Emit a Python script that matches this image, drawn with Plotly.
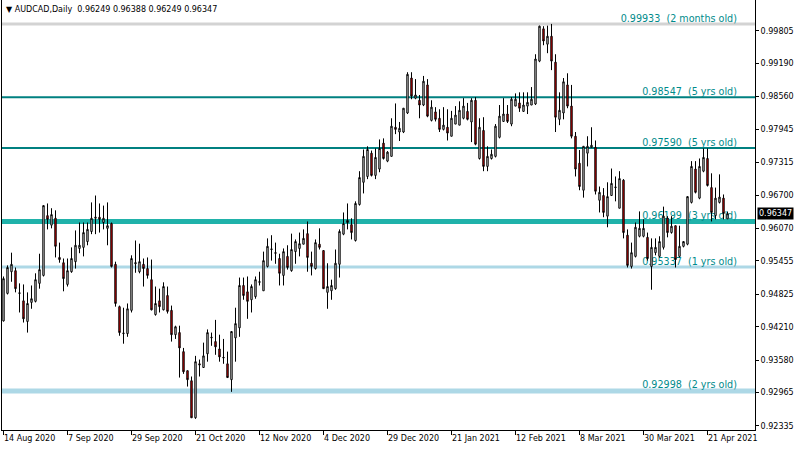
import plotly.graph_objects as go
import pandas as pd

# ---------------- data ----------------
symbol_header = "\u25bc AUDCAD,Daily  0.96249 0.96388 0.96249 0.96347"

dates = [d for d in pd.bdate_range("2020-08-14", "2021-04-28")
         if d.strftime("%m-%d") not in ("12-25", "01-01")]

opens = [
    0.9432, 0.9484, 0.9525, 0.9527, 0.9484, 0.9470, 0.9431, 0.9467, 0.9469, 0.9503,
    0.9518, 0.9631, 0.9613, 0.9626, 0.9552, 0.9542, 0.9501, 0.9525, 0.9544, 0.9569,
    0.9571, 0.9582, 0.9601, 0.9626, 0.9628, 0.9618, 0.9607, 0.9616, 0.9539, 0.9459,
    0.9408, 0.9408, 0.9452, 0.9540, 0.9525, 0.9539, 0.9531, 0.9510, 0.9444, 0.9470,
    0.9453, 0.9480, 0.9452, 0.9406, 0.9410, 0.9374, 0.9338, 0.9319, 0.9249, 0.9351,
    0.9344, 0.9370, 0.9400, 0.9393, 0.9379, 0.9362, 0.9351, 0.9321, 0.9400, 0.9419,
    0.9499, 0.9487, 0.9472, 0.9478, 0.9505, 0.9489, 0.9535, 0.9567, 0.9561, 0.9550,
    0.9518, 0.9554, 0.9527, 0.9563, 0.9569, 0.9577, 0.9597, 0.9541, 0.9531, 0.9577,
    0.9565, 0.9486, 0.9489, 0.9493, 0.9539, 0.9596, 0.9622, 0.9614, 0.9584, 0.9652,
    0.9694, 0.9705, 0.9749, 0.9707, 0.9719, 0.9768, 0.9734, 0.9743, 0.9798, 0.9789,
    0.9789, 0.9825, 0.9891, 0.9853, 0.9849, 0.9840, 0.9878, 0.9811, 0.9827, 0.9815,
    0.9794, 0.9798, 0.9781, 0.9804, 0.9802, 0.9815, 0.9828, 0.9808, 0.9849, 0.9739,
    0.9792, 0.9724, 0.9739, 0.9743, 0.9779, 0.9809, 0.9823, 0.9804, 0.9838, 0.9844,
    0.9828, 0.9838, 0.9840, 0.9842, 0.9923, 0.9984, 0.9955, 0.9970, 0.9921, 0.9813,
    0.9825, 0.9878, 0.9838, 0.9781, 0.9730, 0.9679, 0.9749, 0.9760, 0.9760, 0.9660,
    0.9669, 0.9630, 0.9669, 0.9684, 0.9645, 0.9698, 0.9594, 0.9535, 0.9554, 0.9592,
    0.9592, 0.9590, 0.9535, 0.9561, 0.9554, 0.9571, 0.9626, 0.9599, 0.9612, 0.9554,
    0.9573, 0.9577, 0.9656, 0.9719, 0.9664, 0.9715, 0.9739, 0.9684, 0.9631, 0.9656,
    0.9664, 0.96249,
]
highs = [
    0.9516, 0.9537, 0.9561, 0.9533, 0.9503, 0.9501, 0.9486, 0.9499, 0.9522, 0.9559,
    0.9650, 0.9654, 0.9645, 0.9641, 0.9580, 0.9550, 0.9550, 0.9571, 0.9603, 0.9618,
    0.9618, 0.9618, 0.9656, 0.9669, 0.9654, 0.9650, 0.9656, 0.9618, 0.9544, 0.9461,
    0.9457, 0.9465, 0.9556, 0.9584, 0.9578, 0.9550, 0.9552, 0.9548, 0.9497, 0.9493,
    0.9505, 0.9497, 0.9461, 0.9423, 0.9423, 0.9381, 0.9338, 0.9327, 0.9366, 0.9359,
    0.9391, 0.9416, 0.9410, 0.9434, 0.9406, 0.9398, 0.9374, 0.9412, 0.9457, 0.9514,
    0.9514, 0.9516, 0.9501, 0.9516, 0.9525, 0.9563, 0.9588, 0.9594, 0.9580, 0.9559,
    0.9569, 0.9575, 0.9597, 0.9586, 0.9599, 0.9605, 0.9620, 0.9563, 0.9586, 0.9607,
    0.9565, 0.9541, 0.9510, 0.9567, 0.9605, 0.9637, 0.9654, 0.9626, 0.9658, 0.9715,
    0.9756, 0.9762, 0.9754, 0.9758, 0.9775, 0.9777, 0.9753, 0.9815, 0.9843, 0.9808,
    0.9834, 0.9902, 0.9902, 0.9889, 0.9859, 0.9895, 0.9889, 0.9849, 0.9836, 0.9832,
    0.9836, 0.9832, 0.9829, 0.9838, 0.9847, 0.9853, 0.9844, 0.9853, 0.9855, 0.9815,
    0.9817, 0.9762, 0.9756, 0.9804, 0.9840, 0.9853, 0.9840, 0.9855, 0.9862, 0.9864,
    0.9864, 0.9864, 0.9874, 0.9936, 0.9990, 0.9989, 0.9990, 0.99933, 0.9936, 0.9864,
    0.9891, 0.9900, 0.9878, 0.9789, 0.9755, 0.9762, 0.9781, 0.9798, 0.9773, 0.9686,
    0.9683, 0.9694, 0.9720, 0.9705, 0.9715, 0.9700, 0.9605, 0.9580, 0.9618, 0.9639,
    0.9624, 0.9599, 0.9588, 0.9588, 0.9592, 0.9648, 0.9630, 0.9630, 0.9612, 0.9612,
    0.9582, 0.9667, 0.9734, 0.9734, 0.9739, 0.9758, 0.9758, 0.9711, 0.9684, 0.9709,
    0.9671, 0.96388,
]
lows = [
    0.9431, 0.9482, 0.9506, 0.9486, 0.9448, 0.9429, 0.9410, 0.9455, 0.9467, 0.9493,
    0.9516, 0.9605, 0.9607, 0.9552, 0.9542, 0.9488, 0.9497, 0.9523, 0.9531, 0.9560,
    0.9554, 0.9575, 0.9596, 0.9596, 0.9599, 0.9605, 0.9575, 0.9533, 0.9459, 0.9404,
    0.9389, 0.9402, 0.9448, 0.9523, 0.9522, 0.9497, 0.9512, 0.9452, 0.9442, 0.9448,
    0.9452, 0.9446, 0.9393, 0.9398, 0.9325, 0.9332, 0.9308, 0.9249, 0.9247, 0.9327,
    0.9344, 0.9355, 0.9385, 0.9368, 0.9355, 0.9351, 0.9325, 0.9298, 0.9355, 0.9402,
    0.9472, 0.9436, 0.9448, 0.9474, 0.9499, 0.9489, 0.9533, 0.9546, 0.9540, 0.9499,
    0.9499, 0.9529, 0.9525, 0.9540, 0.9554, 0.9577, 0.9525, 0.9518, 0.9529, 0.9567,
    0.9493, 0.9455, 0.9472, 0.9491, 0.9514, 0.9594, 0.9605, 0.9586, 0.9582, 0.9650,
    0.9673, 0.9700, 0.9705, 0.9700, 0.9713, 0.9737, 0.9732, 0.9743, 0.9785, 0.9772,
    0.9787, 0.9823, 0.9851, 0.9851, 0.9815, 0.9838, 0.9817, 0.9809, 0.9809, 0.9789,
    0.9792, 0.9773, 0.9781, 0.9804, 0.9802, 0.9813, 0.9811, 0.9770, 0.9764, 0.9737,
    0.9715, 0.9715, 0.9737, 0.9741, 0.9777, 0.9808, 0.9806, 0.9800, 0.9838, 0.9827,
    0.9827, 0.9823, 0.9840, 0.9840, 0.9921, 0.9953, 0.9938, 0.9906, 0.9789, 0.9802,
    0.9813, 0.9834, 0.9777, 0.9705, 0.9679, 0.9665, 0.9724, 0.9760, 0.9671, 0.9637,
    0.9628, 0.9609, 0.9669, 0.9658, 0.9645, 0.9588, 0.9533, 0.9531, 0.9552, 0.9590,
    0.9590, 0.9546, 0.9491, 0.9556, 0.9552, 0.9567, 0.9590, 0.9597, 0.9533, 0.9552,
    0.9571, 0.9575, 0.9654, 0.9673, 0.9662, 0.9713, 0.9686, 0.9620, 0.9624, 0.9654,
    0.9624, 0.96249,
]
closes = [
    0.9512, 0.9533, 0.9539, 0.9493, 0.9485, 0.9436, 0.9465, 0.9474, 0.9510, 0.9529,
    0.9650, 0.9624, 0.9633, 0.9573, 0.9548, 0.9512, 0.9527, 0.9550, 0.9575, 0.9575,
    0.9599, 0.9605, 0.9626, 0.9628, 0.9624, 0.9626, 0.9612, 0.9535, 0.9465, 0.9410,
    0.9409, 0.9455, 0.9550, 0.9542, 0.9544, 0.9531, 0.9518, 0.9453, 0.9465, 0.9459,
    0.9497, 0.9450, 0.9406, 0.9421, 0.9381, 0.9336, 0.9321, 0.9249, 0.9355, 0.9349,
    0.9366, 0.9410, 0.9401, 0.9383, 0.9364, 0.9363, 0.9325, 0.9412, 0.9427, 0.9499,
    0.9480, 0.9469, 0.9497, 0.9510, 0.9506, 0.9546, 0.9573, 0.9568, 0.9560, 0.9522,
    0.9563, 0.9533, 0.9567, 0.9582, 0.9578, 0.9588, 0.9552, 0.9535, 0.9580, 0.9571,
    0.9493, 0.9497, 0.9499, 0.9541, 0.9601, 0.9616, 0.9618, 0.9599, 0.9654, 0.9703,
    0.9743, 0.9756, 0.9707, 0.9741, 0.9758, 0.9739, 0.9751, 0.9800, 0.9794, 0.9796,
    0.9834, 0.9898, 0.9857, 0.9859, 0.9840, 0.9885, 0.9819, 0.9836, 0.9813, 0.9794,
    0.9802, 0.9787, 0.9815, 0.9821, 0.9830, 0.9838, 0.9813, 0.9849, 0.9766, 0.9798,
    0.9724, 0.9743, 0.9747, 0.9800, 0.9819, 0.9823, 0.9809, 0.9851, 0.9851, 0.9834,
    0.9840, 0.9845, 0.9851, 0.9927, 0.9989, 0.9961, 0.9970, 0.9923, 0.9817, 0.9830,
    0.9884, 0.9838, 0.9781, 0.9719, 0.9686, 0.9762, 0.9762, 0.9764, 0.9677, 0.9675,
    0.9637, 0.9667, 0.9692, 0.9685, 0.9701, 0.9599, 0.9537, 0.9561, 0.9609, 0.9607,
    0.9607, 0.9550, 0.9571, 0.9571, 0.9582, 0.9630, 0.9599, 0.9611, 0.9548, 0.9573,
    0.9582, 0.9667, 0.9724, 0.9675, 0.9724, 0.9741, 0.9688, 0.9637, 0.9664, 0.9666,
    0.9635, 0.96347,
]

current_price = 0.96347

# horizontal price levels and their ages
level_prices = [0.99933, 0.98547, 0.97590, 0.96199, 0.95337, 0.92998]
level_ages = ["2 months old", "5 yrs old", "5 yrs old", "3 yrs old", "1 yrs old", "2 yrs old"]

# price scale tick labels
y_tick_values = [0.99805, 0.99190, 0.98560, 0.97945, 0.97315, 0.96700, 0.96070,
                 0.95455, 0.94825, 0.94210, 0.93580, 0.92965, 0.92335]
y_tick_labels = ["0.99805", "0.99190", "0.98560", "0.97945", "0.97315", "0.96700", "0.96070",
                 "0.95455", "0.94825", "0.94210", "0.93580", "0.92965", "0.92335"]

# time scale labels (every 16th bar)
x_tick_labels = ["14 Aug 2020", "7 Sep 2020", "29 Sep 2020", "21 Oct 2020", "12 Nov 2020",
                 "4 Dec 2020", "29 Dec 2020", "21 Jan 2021", "12 Feb 2021", "8 Mar 2021",
                 "30 Mar 2021", "21 Apr 2021"]
x_tick_bars = [0, 16, 32, 48, 64, 80, 96, 112, 128, 144, 160, 176]

# ---------------- styles ----------------
level_colors = ["#d3d3d3", "#008080", "#008080", "#20b2aa", "#add8e6", "#add8e6"]
level_widths = [3, 2, 2, 5, 3, 5]
label_color = "#008b8b"
FONT = "DejaVu Sans"

n = len(opens)
bars = list(range(n))
hover_dates = [d.strftime("%d %b %Y") for d in dates[:n]]

fig = go.Figure()
fig.add_trace(go.Candlestick(
    x=bars, open=opens, high=highs, low=lows, close=closes,
    text=hover_dates,
    increasing=dict(line=dict(color="black", width=1), fillcolor="white"),
    decreasing=dict(line=dict(color="black", width=1), fillcolor="#ff0000"),
    whiskerwidth=0,
    showlegend=False,
))

x_min, x_max = -0.375, 187.875
y_min, y_max = 0.92259, 1.00385
label_end = 183.6

for p, age, c, w in zip(level_prices, level_ages, level_colors, level_widths):
    fig.add_shape(type="line", xref="paper", x0=0, x1=1, yref="y", y0=p, y1=p,
                  line=dict(color=c, width=w), layer="below")
    fig.add_shape(type="line", xref="x", x0=label_end - 30, x1=label_end, yref="y", y0=p, y1=p,
                  line=dict(color="rgba(0,0,0,0)", width=1), layer="below",
                  label=dict(text=f"{p:.5f}\u00a0 ({age})", textposition="end",
                             xanchor="right", yanchor="bottom", padding=1, textangle=0,
                             font=dict(family=FONT, size=9.6, color=label_color)))

# date labels
for b, t in zip(x_tick_bars, x_tick_labels):
    fig.add_annotation(x=b, xref="x", y=0, yref="paper", yanchor="top", xanchor="left",
                       xshift=-2, yshift=-2, text=t, showarrow=False,
                       font=dict(family=FONT, size=8, color="black"))

# header
fig.add_annotation(x=0, xref="paper", y=1, yref="paper", xanchor="left", yanchor="top",
                   xshift=2, yshift=-3, text=symbol_header, showarrow=False,
                   bgcolor="white", borderpad=1,
                   font=dict(family=FONT, size=8, color="black"))

# current price box
fig.add_annotation(x=1, xref="paper", y=current_price, yref="y", xanchor="left", yanchor="middle",
                   xshift=2, text=f"{current_price:.5f}", showarrow=False,
                   bgcolor="black", borderpad=1,
                   font=dict(family=FONT, size=8, color="white"))

fig.update_layout(
    width=800, height=450,
    margin=dict(l=2, r=45, t=0, b=20),
    paper_bgcolor="white", plot_bgcolor="white",
    showlegend=False, boxgap=0.5,
    font=dict(family=FONT, size=8, color="black"),
    xaxis=dict(range=[x_min, x_max], showgrid=False, zeroline=False,
               showline=True, linecolor="black", linewidth=1,
               ticks="outside", ticklen=4, tickcolor="black",
               tickvals=x_tick_bars, showticklabels=False,
               rangeslider=dict(visible=False), fixedrange=True),
    yaxis=dict(range=[y_min, y_max], side="right", showgrid=False, zeroline=False,
               showline=True, mirror=True, linecolor="black", linewidth=1,
               ticks="outside", ticklen=3, tickcolor="black",
               tickvals=y_tick_values, ticktext=y_tick_labels,
               tickfont=dict(family=FONT, size=8, color="black"), fixedrange=True),
)

fig.write_html("out.html", config={"displayModeBar": False},
               post_script="document.body.style.margin='0';document.body.style.overflow='hidden';")
